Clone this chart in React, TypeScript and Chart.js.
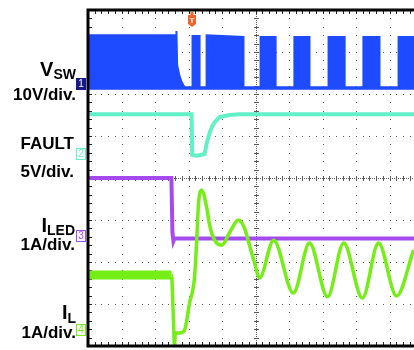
import React, { useEffect, useRef } from 'react';
import { Chart, registerables } from 'chart.js';

Chart.register(...registerables);

// Screen units: horizontal = divisions from the left edge of the screen,
// vertical = divisions from the centre graticule line.
const X_MIN = 0;
const X_MAX = 9.73;
const Y_MIN = -4;
const Y_MAX = 4;

// CH1 V_SW switching envelope (upper edge of the band)
const vswTime = [0, 2.58, 2.58, 2.63, 2.64, 2.66, 2.73, 2.79, 2.88, 3.12, 3.12, 3.33, 3.33, 3.54, 3.54, 4.64, 4.64, 5.15, 5.15, 5.6, 5.6, 6.16, 6.16, 6.61, 6.61, 7.18, 7.18, 7.66, 7.66, 8.22, 8.22, 8.7, 8.7, 9.27, 9.27, 9.73];
const vswLevel = [3.4, 3.4, 2.16, 2.16, 3.5, 2.69, 2.43, 2.29, 2.16, 2.16, 3.38, 3.38, 2.16, 2.16, 3.4, 3.36, 2.16, 2.16, 3.36, 3.36, 2.16, 2.16, 3.36, 3.36, 2.16, 2.16, 3.36, 3.36, 2.16, 2.16, 3.36, 3.36, 2.16, 2.16, 3.36, 3.36];
const vswFloor = 2.1;

// CH2 FAULT
const faultTime = [0, 3.09, 3.11, 3.25, 3.48, 3.55, 3.63, 3.7, 3.78, 3.93, 4.22, 4.52, 9.73];
const faultLevel = [1.52, 1.52, 0.55, 0.53, 0.57, 0.85, 1.07, 1.22, 1.33, 1.45, 1.5, 1.52, 1.52];

// CH3 I_LED
const iledTime = [0, 2.49, 2.52, 2.55, 2.58, 9.73];
const iledLevel = [0.0, 0.0, -1.3, -1.5, -1.44, -1.44];

// CH4 I_L
const ilTime = [0, 2.49, 2.55, 2.58, 2.61, 2.73, 2.88, 3.03, 3.18, 3.24, 3.3, 3.39, 3.54, 3.63, 3.78, 3.99, 4.22, 4.49, 4.67, 4.82, 4.97, 5.12, 5.54, 6.13, 6.61, 7.15, 7.63, 8.19, 8.67, 9.21, 9.72];
const ilLevel = [-2.31, -2.31, -3.38, -4.0, -3.69, -3.69, -3.62, -2.98, -2.36, -1.55, -0.6, -0.29, -0.69, -1.12, -1.48, -1.6, -1.31, -1.0, -1.19, -1.6, -2.02, -2.38, -1.48, -2.74, -1.55, -2.83, -1.55, -2.86, -1.55, -2.81, -1.71];

// channel ground markers and trigger position
const channelNames = ['1', '2', '3', '4'];
const channelZero = [2.25, 0.57, -1.39, -3.63];
const triggerTime = 3.09;

const COLORS = ['#1e4bff', '#62f0c6', '#a64af0', '#74ee16'];
const MARKER1_FILL = '#17178f';
const TRIGGER_COLOR = '#f0642a';

const pts = (t: number[], v: number[]) => t.map((x, i) => ({ x, y: v[i] }));

const scopePlugin = {
  id: 'scope',
  beforeDatasetsDraw(chart: any) {
    const { ctx, chartArea: a, scales } = chart;
    const xs = scales.x;
    const ys = scales.y;
    ctx.save();
    ctx.fillStyle = '#5a5a5a';
    const dot = (px: number, py: number, w = 1, h = 1) => ctx.fillRect(Math.round(px), Math.round(py), w, h);
    // vertical graticule
    for (let k = 1; k <= Math.floor(X_MAX); k++) {
      const px = xs.getPixelForValue(k);
      if (k === 5) {
        for (let py = a.top; py <= a.bottom; py += 2) dot(px, py);
        for (let j = 1; j < 40; j++) dot(px - 2, ys.getPixelForValue(Y_MIN + j * 0.2), 5, 1);
      } else {
        for (let j = 1; j < 40; j++) dot(px, ys.getPixelForValue(Y_MIN + j * 0.2));
      }
    }
    // horizontal graticule
    for (let m = -3; m <= 3; m++) {
      const py = ys.getPixelForValue(m);
      if (m === 0) {
        for (let px = a.left; px <= a.right; px += 2) dot(px, py);
        for (let i = 1; i * 0.2 <= X_MAX; i++) dot(xs.getPixelForValue(i * 0.2), py - 2, 1, 5);
      } else {
        for (let i = 1; i * 0.2 <= X_MAX; i++) dot(xs.getPixelForValue(i * 0.2), py);
      }
    }
    // border ticks
    ctx.fillStyle = '#222';
    for (let j = 1; j < 40; j++) dot(a.left, ys.getPixelForValue(Y_MIN + j * 0.2), 4, 1);
    for (let i = 1; i * 0.2 <= X_MAX; i++) {
      const px = xs.getPixelForValue(i * 0.2);
      dot(px, a.top, 1, 4);
      dot(px, a.bottom - 4, 1, 4);
    }
    ctx.restore();
  },
  afterDatasetsDraw(chart: any) {
    const { ctx, chartArea: a, scales } = chart;
    const xs = scales.x;
    const ys = scales.y;
    ctx.save();
    // frame
    ctx.strokeStyle = '#000';
    ctx.lineWidth = 3;
    ctx.beginPath();
    ctx.moveTo(a.right + 2, a.top);
    ctx.lineTo(a.left, a.top);
    ctx.lineTo(a.left, a.bottom);
    ctx.lineTo(a.right + 2, a.bottom);
    ctx.stroke();
    // channel ground markers
    ctx.font = '10px "Liberation Sans", Arial, sans-serif';
    ctx.textAlign = 'center';
    ctx.textBaseline = 'middle';
    channelNames.forEach((name, i) => {
      const py = Math.round(ys.getPixelForValue(channelZero[i]));
      const x0 = a.left - 12;
      if (i === 0) {
        ctx.fillStyle = MARKER1_FILL;
        ctx.fillRect(x0, py - 6, 10, 12);
        ctx.fillStyle = '#fff';
      } else {
        ctx.fillStyle = '#fff';
        ctx.fillRect(x0, py - 6, 10, 12);
        ctx.strokeStyle = COLORS[i];
        ctx.lineWidth = 1;
        ctx.strokeRect(x0 + 0.5, py - 5.5, 9, 11);
        ctx.fillStyle = COLORS[i];
      }
      ctx.fillText(name, x0 + 5, py + 0.5);
    });
    // trigger marker
    const tx = Math.round(xs.getPixelForValue(triggerTime));
    ctx.fillStyle = TRIGGER_COLOR;
    ctx.fillRect(tx - 1.5, a.top + 2, 3, 4);
    ctx.beginPath();
    ctx.moveTo(tx - 4, a.top + 5);
    ctx.lineTo(tx + 4, a.top + 5);
    ctx.lineTo(tx + 4, a.top + 14);
    ctx.lineTo(tx, a.top + 17);
    ctx.lineTo(tx - 4, a.top + 14);
    ctx.closePath();
    ctx.fill();
    ctx.fillStyle = '#fff';
    ctx.font = 'bold 8px "Liberation Sans", Arial, sans-serif';
    ctx.fillText('T', tx, a.top + 10.5);
    ctx.restore();
  },
};

const mainSize = 20;
const subSize = 14;
const divSize = 17;

export default function App() {
  const ref = useRef<HTMLCanvasElement>(null);
  useEffect(() => {
    const chart = new Chart(ref.current as HTMLCanvasElement, {
      type: 'line',
      data: {
        datasets: [
          {
            label: 'I_L',
            data: pts(ilTime, ilLevel),
            borderColor: COLORS[3],
            borderWidth: 3.5,
            cubicInterpolationMode: 'monotone',
            segment: { borderWidth: (c: any) => (c.p0DataIndex === 0 ? 9 : 3.5) },
          } as any,
          {
            label: 'I_LED',
            data: pts(iledTime, iledLevel),
            borderColor: COLORS[2],
            borderWidth: 4,
          },
          {
            label: 'FAULT',
            data: pts(faultTime, faultLevel),
            borderColor: COLORS[1],
            borderWidth: 4,
          },
          {
            label: 'V_SW',
            data: pts(vswTime, vswLevel),
            borderColor: COLORS[0],
            backgroundColor: COLORS[0],
            borderWidth: 2,
            fill: { value: vswFloor },
          } as any,
        ],
      },
      options: {
        responsive: false,
        devicePixelRatio: 1,
        animation: false,
        layout: { padding: { left: 88, top: 10, right: 0, bottom: 4 } },
        elements: { point: { radius: 0 }, line: { tension: 0 } },
        scales: {
          x: { type: 'linear', min: X_MIN, max: X_MAX, display: false },
          y: { type: 'linear', min: Y_MIN, max: Y_MAX, display: false },
        },
        plugins: { legend: { display: false }, tooltip: { enabled: false } },
      } as any,
      plugins: [scopePlugin],
    });
    return () => chart.destroy();
  }, []);

  const base: React.CSSProperties = {
    position: 'absolute',
    whiteSpace: 'nowrap',
    textAlign: 'right',
  };
  const divLine = (text: string, right: number, baseline: number) => (
    <div
      style={{
        ...base,
        right: 414 - right,
        top: baseline - 0.8465 * divSize,
        fontSize: divSize,
        lineHeight: divSize + 'px',
      }}
    >
      {text}
    </div>
  );
  const nameLine = (main: string, sub: string, right: number, baseline: number, subDrop: number) => (
    <div
      style={{
        ...base,
        right: 414 - right,
        top: baseline - 0.8465 * mainSize,
        fontSize: mainSize,
        lineHeight: mainSize + 'px',
      }}
    >
      <span>{main}</span>
      <span style={{ fontSize: subSize, position: 'relative', top: subDrop }}>{sub}</span>
    </div>
  );

  return (
    <div
      style={{
        position: 'fixed',
        left: 0,
        top: 0,
        width: 414,
        height: 350,
        overflow: 'hidden',
        background: '#fff',
        color: '#000',
        fontFamily: '"Liberation Sans", Arial, Helvetica, sans-serif',
        fontWeight: 'bold',
      }}
    >
      <canvas ref={ref} width={414} height={350} style={{ position: 'absolute', left: 0, top: 0, width: 414, height: 350 }} />
      {nameLine('V', 'SW', 76, 76, 3)}
      {divLine('10V/div.', 76, 100)}
      {divLine('FAULT', 74, 149)}
      {divLine('5V/div.', 74, 177)}
      {nameLine('I', 'LED', 75, 232, 3)}
      {divLine('1A/div.', 75, 250)}
      {nameLine('I', 'L', 76, 319, 4)}
      {divLine('1A/div.', 76, 338)}
    </div>
  );
}
